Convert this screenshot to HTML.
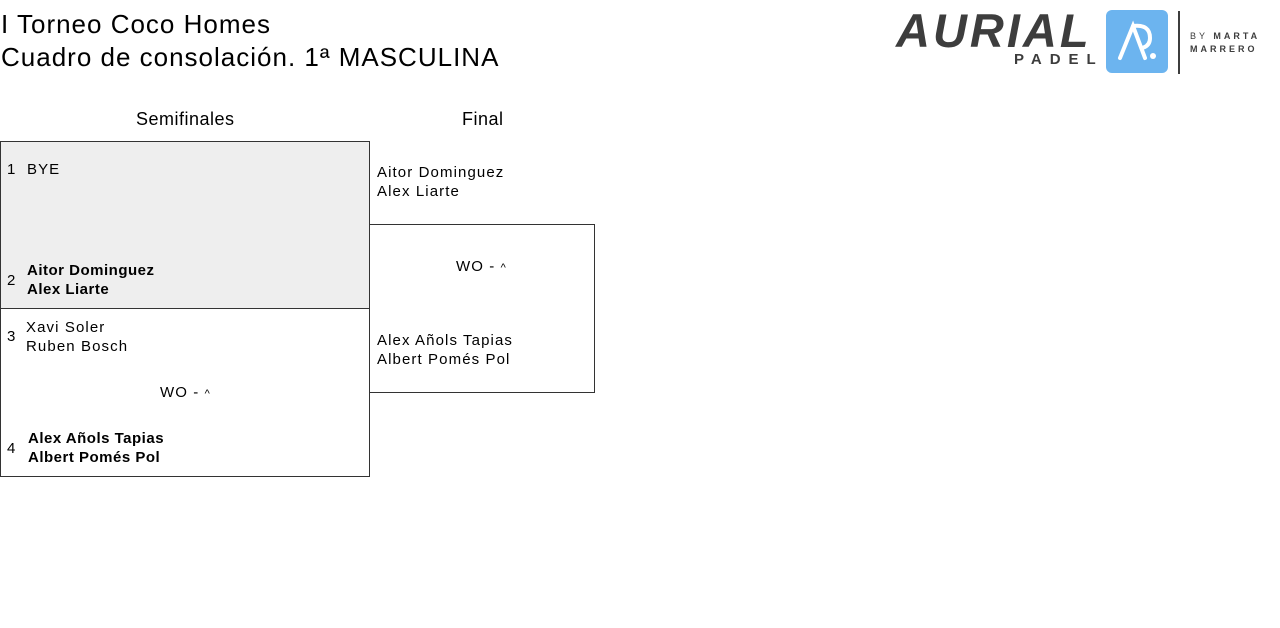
<!DOCTYPE html>
<html><head><meta charset="utf-8"><style>
body{margin:0;width:1280px;height:628px;background:#fff;font-family:"Liberation Sans",sans-serif;color:#000;position:relative;overflow:hidden}
.a{position:absolute;white-space:nowrap}
.t{font-size:26px;left:1px;line-height:32px;letter-spacing:1px}
.s{font-size:15px;line-height:19px;letter-spacing:1.1px}
.b{font-weight:bold;letter-spacing:0.5px}
.box{position:absolute;border:1px solid #333;box-sizing:border-box}
</style></head><body>
<div class="a t" style="top:8px">I Torneo Coco Homes</div>
<div class="a t" style="top:41px">Cuadro de consolación. 1ª MASCULINA</div>

<!-- logo -->
<div class="a" style="left:896px;top:4px;font-size:47px;font-weight:bold;font-style:italic;color:#3d3d3d;letter-spacing:3px;line-height:54px">AURIAL</div>
<div class="a" style="left:1014px;top:51px;font-size:15px;font-weight:bold;color:#3d3d3d;letter-spacing:8px">PADEL</div>
<div class="a" style="left:1106px;top:10px;width:62px;height:63px;background:#6cb4ef;border-radius:6px">
<svg width="62" height="63"><path d="M14 48 L27 16 L39 48 M27 16 Q44 14 44 28 Q44 36 36 38" stroke="#fff" stroke-width="4" fill="none" stroke-linecap="round"/><circle cx="47" cy="46" r="3" fill="#fff"/></svg></div>
<div class="a" style="left:1178px;top:11px;width:2px;height:63px;background:#3d3d3d"></div>
<div class="a" style="left:1190px;top:30px;font-size:9px;color:#3d3d3d;letter-spacing:3px;line-height:13px">BY <b>MARTA</b><br><b>MARRERO</b></div>

<div class="a" style="left:136px;top:109px;font-size:18px;letter-spacing:0.5px">Semifinales</div>
<div class="a" style="left:462px;top:109px;font-size:18px;letter-spacing:0.5px">Final</div>

<div class="box" style="left:0;top:141px;width:370px;height:168px;background:#eee"></div>
<div class="box" style="left:0;top:308px;width:370px;height:169px"></div>
<div class="box" style="left:369px;top:224px;width:226px;height:169px"></div>

<div class="a s" style="left:7px;top:160px">1&nbsp;&nbsp;BYE</div>
<div class="a s" style="left:7px;top:271px">2</div>
<div class="a s b" style="left:27px;top:261px">Aitor Dominguez<br>Alex Liarte</div>
<div class="a s" style="left:7px;top:327px">3</div>
<div class="a s" style="left:26px;top:318px">Xavi Soler<br>Ruben Bosch</div>
<div class="a s" style="left:160px;top:383px">WO - <span style="font-size:11px">^</span></div>
<div class="a s" style="left:7px;top:439px">4</div>
<div class="a s b" style="left:28px;top:429px">Alex Añols Tapias<br>Albert Pomés Pol</div>

<div class="a s" style="left:377px;top:163px">Aitor Dominguez<br>Alex Liarte</div>
<div class="a s" style="left:456px;top:257px">WO - <span style="font-size:11px">^</span></div>
<div class="a s" style="left:377px;top:331px">Alex Añols Tapias<br>Albert Pomés Pol</div>
</body></html>
